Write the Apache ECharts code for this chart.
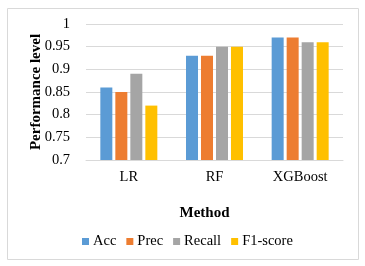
<!DOCTYPE html>
<html><head><meta charset="utf-8">
<script src="https://cdn.jsdelivr.net/npm/echarts@6/dist/echarts.min.js"></script>
<style>html,body{margin:0;padding:0;background:#fff}#c{width:365px;height:266px}</style>
</head><body><div id="c"></div>
<script>
const categories = ['LR', 'RF', 'XGBoost'];
const seriesNames = ['Acc', 'Prec', 'Recall', 'F1-score'];
const acc = [0.86, 0.93, 0.97];
const prec = [0.85, 0.93, 0.97];
const recall = [0.89, 0.95, 0.96];
const f1 = [0.82, 0.95, 0.96];
const colors = ['#5B9BD5', '#ED7D31', '#A5A5A5', '#FFC000'];
const font = '"Liberation Serif", "Times New Roman", serif';
const chart = echarts.init(document.getElementById('c'), null, {renderer: 'canvas'});
const data = [acc, prec, recall, f1];
chart.setOption({
  animation: false,
  textStyle: {fontFamily: font},
  graphic: [{type: 'rect', shape: {x: 7.5, y: 8.5, width: 351, height: 251}, style: {fill: 'none', stroke: '#D9D9D9', lineWidth: 1}, z: -1}],
  grid: {left: 86, right: 22, top: 24, bottom: 106},
  legend: {
    top: 229, left: 77, itemWidth: 7, itemHeight: 7, itemGap: 10,
    icon: 'rect',
    textStyle: {fontFamily: font, fontSize: 14.5, color: '#000', padding: [0,0,0,-1]},
    data: seriesNames
  },
  xAxis: {
    type: 'category', data: categories,
    name: 'Method', nameLocation: 'middle', nameGap: 46,
    nameTextStyle: {fontFamily: font, fontSize: 15, fontWeight: 'bold', color: '#000', padding: [0, 20, 0, 0]},
    axisLine: {lineStyle: {color: '#D9D9D9'}},
    axisTick: {show: false},
    axisLabel: {fontFamily: font, fontSize: 14.5, color: '#000', margin: 10}
  },
  yAxis: {
    type: 'value', min: 0.7, max: 1, interval: 0.05,
    name: 'Performance level', nameLocation: 'middle', nameGap: 42, nameMoveOverlap: false,
    nameTextStyle: {fontFamily: font, fontSize: 15, fontWeight: 'bold', color: '#000'},
    axisLine: {show: false}, axisTick: {show: false},
    splitLine: {lineStyle: {color: '#D9D9D9'}},
    axisLabel: {fontFamily: font, fontSize: 14.5, color: '#000', margin: 16,
      formatter: v => String(Math.round(v * 100) / 100)}
  },
  series: seriesNames.map((n, i) => ({
    name: n, type: 'bar', data: data[i], barWidth: 12, barGap: '25%', barCategoryGap: '33%',
    itemStyle: {color: colors[i]}
  }))
});
</script></body></html>
